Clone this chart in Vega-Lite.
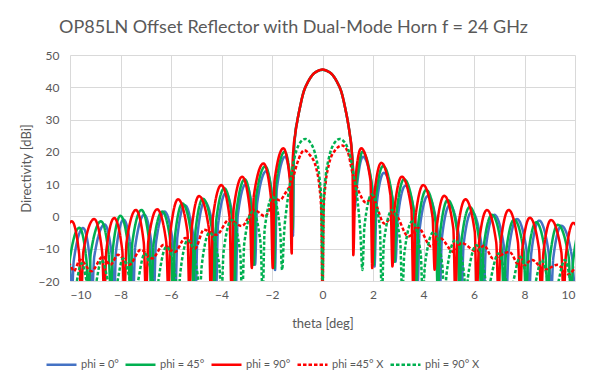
{
"$schema": "https://vega.github.io/schema/vega-lite/v6.json",
"width": 505, "height": 226,
"autosize": {"type": "none"},
"padding": {"left": 70, "top": 55, "right": 25, "bottom": 99},
"background": "white",
"title": {"text": "OP85LN Offset Reflector with Dual-Mode Horn f = 24 GHz", "font": "Lato", "fontSize": 18, "fontWeight": "normal", "color": "#595959", "anchor": "middle", "dx": -29, "offset": -2, "baseline": "alphabetic"},
"datasets": {
"blue": [[-10.6,-4.5],[-10.01,-14.5],[-9.93,-25],[-9.85,-13.6],[-9.48,-3.6],[-9.21,-13.6],[-9.13,-25],[-9.04,-12.5],[-8.63,-2.5],[-8.34,-12.5],[-8.25,-25],[-8.18,-11],[-7.88,-1],[-7.58,-11],[-7.5,-25],[-7.42,-9.5],[-7.06,0.5],[-6.76,-9.5],[-6.68,-25],[-6.6,-8.5],[-6.26,1.5],[-5.92,-8.5],[-5.83,-25],[-5.75,-6.5],[-5.46,3.5],[-5.11,-6.5],[-5.03,-25],[-4.95,-5.5],[-4.67,4.5],[-4.3,-5.5],[-4.22,-25],[-4.14,-2.8],[-3.83,7.2],[-3.52,-2.8],[-3.44,-25],[-3.36,0],[-3.04,10],[-2.75,0],[-2.67,-15],[-2.59,4],[-2.23,14],[-1.96,4],[-1.88,-16.6],[-1.81,8.5],[-1.48,18.5],[-1.24,8.5],[-1.17,-6],[-1.13,19.5],[-1.08,25.5],[-1.0,29.5],[-0.9,33.5],[-0.75,38.5],[-0.6,41.3],[-0.4,43.8],[-0.2,45],[0,45.4],[0.2,45],[0.4,43.8],[0.6,41.3],[0.75,38.5],[0.9,33.5],[1.0,29.5],[1.08,25.5],[1.15,21],[1.22,13],[1.27,2],[1.35,8.5],[1.6,18.5],[1.98,8.5],[2.06,-15.5],[2.14,3.5],[2.43,13.5],[2.81,3.5],[2.89,-14],[2.98,-0.5],[3.28,9.5],[3.67,-0.5],[3.76,-22],[3.85,-3.7],[4.17,6.3],[4.55,-3.7],[4.64,-25],[4.73,-6.5],[5.04,3.5],[5.41,-6.5],[5.5,-25],[5.59,-8.5],[5.91,1.5],[6.29,-8.5],[6.38,-25],[6.47,-9.5],[6.8,0.5],[7.19,-9.5],[7.28,-25],[7.37,-10.8],[7.7,-0.8],[8.09,-10.8],[8.18,-25],[8.27,-11.3],[8.58,-1.3],[8.96,-11.3],[9.05,-25],[9.14,-12.9],[9.46,-2.9],[9.89,-12.9],[9.98,-25],[10.07,-14],[10.38,-4]],
"green": [[-10.5,-4.5],[-10.17,-14.5],[-10.09,-25],[-10.01,-13.5],[-9.63,-3.5],[-9.35,-13.5],[-9.27,-25],[-9.18,-11.5],[-8.77,-1.5],[-8.47,-11.5],[-8.38,-25],[-8.3,-9.8],[-8.0,0.2],[-7.69,-9.8],[-7.61,-25],[-7.53,-8],[-7.17,2],[-6.86,-8],[-6.78,-25],[-6.69,-8.5],[-6.35,1.5],[-6.01,-8.5],[-5.92,-25],[-5.84,-6],[-5.55,4],[-5.19,-6],[-5.11,-25],[-5.03,-4.5],[-4.74,5.5],[-4.37,-4.5],[-4.29,-25],[-4.21,-1.3],[-3.89,8.7],[-3.57,-1.3],[-3.49,-25],[-3.41,1.5],[-3.08,11.5],[-2.8,1.5],[-2.72,-15],[-2.64,5.5],[-2.27,15.5],[-1.99,5.5],[-1.91,-16],[-1.84,10],[-1.5,20],[-1.25,10],[-1.18,-4],[-1.14,19],[-1.08,25.5],[-1.0,29.5],[-0.9,33.5],[-0.75,38.5],[-0.6,41.3],[-0.4,43.8],[-0.2,45],[0,45.4],[0.2,45],[0.4,43.8],[0.6,41.3],[0.75,38.5],[0.9,33.5],[1.0,29.5],[1.08,25.5],[1.15,21],[1.21,14],[1.26,5],[1.34,10],[1.58,20],[1.95,10],[2.03,-15],[2.11,5.6],[2.4,15.6],[2.77,5.6],[2.85,-14],[2.94,1.5],[3.23,11.5],[3.62,1.5],[3.71,-22],[3.8,-1.8],[4.11,8.2],[4.48,-1.8],[4.57,-25],[4.66,-4.9],[4.96,5.1],[5.34,-4.9],[5.42,-25],[5.51,-7.1],[5.83,2.9],[6.2,-7.1],[6.29,-25],[6.38,-9.5],[6.71,0.5],[7.09,-9.5],[7.18,-25],[7.27,-11],[7.59,-1],[7.97,-11],[8.06,-25],[8.15,-11.8],[8.46,-1.8],[8.83,-11.8],[8.92,-25],[9.01,-12.6],[9.32,-2.6],[9.75,-12.6],[9.84,-25],[9.93,-13.5],[10.23,-3.5],[10.62,-13.5],[10.71,-25]],
"red": [[-10.4,-25],[-10.31,-11.5],[-9.93,-1.5],[-9.64,-11.5],[-9.56,-25],[-9.47,-10.8],[-9.04,-0.8],[-8.73,-10.8],[-8.64,-25],[-8.56,-10.5],[-8.25,-0.5],[-7.93,-10.5],[-7.85,-25],[-7.76,-8],[-7.39,2],[-7.08,-8],[-6.99,-25],[-6.9,-7.8],[-6.55,2.2],[-6.19,-7.8],[-6.1,-25],[-6.02,-4.7],[-5.72,5.3],[-5.35,-4.7],[-5.27,-25],[-5.18,-3.7],[-4.89,6.3],[-4.5,-3.7],[-4.42,-25],[-4.34,-0.3],[-4.01,9.7],[-3.68,-0.3],[-3.6,-25],[-3.52,2.3],[-3.18,12.3],[-2.88,2.3],[-2.8,-16],[-2.72,6.4],[-2.34,16.4],[-2.05,6.4],[-1.97,-16],[-1.9,11.1],[-1.55,21.1],[-1.29,11.1],[-1.22,-11.5],[-1.19,15],[-1.15,21],[-1.08,25.5],[-1.0,29.5],[-0.9,33.5],[-0.75,38.5],[-0.6,41.3],[-0.4,43.8],[-0.2,45],[0,45.5],[0.2,45],[0.4,43.8],[0.6,41.3],[0.75,38.5],[0.9,33.5],[1.0,29.5],[1.08,25.5],[1.15,21],[1.19,15],[1.22,-12],[1.3,11.1],[1.53,21.1],[1.9,11.1],[1.97,-16],[2.05,6.6],[2.33,16.6],[2.69,6.6],[2.77,-15.5],[2.85,2.3],[3.14,12.3],[3.52,2.3],[3.6,-25],[3.68,-0.3],[3.99,9.7],[4.36,-0.3],[4.44,-16.5],[4.52,-3.6],[4.82,6.4],[5.18,-3.6],[5.26,-25],[5.35,-4.7],[5.66,5.3],[6.03,-4.7],[6.11,-25],[6.2,-8],[6.51,2],[6.88,-8],[6.97,-25],[7.06,-8],[7.37,2],[7.74,-8],[7.83,-25],[7.91,-10.4],[8.21,-0.4],[8.58,-10.4],[8.66,-25],[8.75,-11.1],[9.05,-1.1],[9.46,-11.1],[9.55,-25],[9.64,-12],[9.93,-2],[10.31,-12],[10.4,-25]],
"redx": [[-10.3,-16],[-10.0,-15],[-9.85,-17],[-9.6,-13.4],[-9.15,-17],[-8.7,-12.4],[-8.4,-15],[-8.1,-11.9],[-7.65,-15],[-7.2,-10.3],[-6.75,-13],[-6.29,-8.8],[-5.85,-11],[-5.43,-6.7],[-5.05,-10],[-4.7,-4.1],[-4.2,-5.7],[-3.7,-1],[-3.2,-3],[-2.7,2],[-2.27,0],[-1.9,5.5],[-1.7,5],[-1.45,7.5],[-1.2,11],[-1.0,16.5],[-0.72,20.5],[-0.5,19],[-0.25,15],[-0.12,9],[-0.05,2],[0,-25],[0.05,3],[0.12,10],[0.25,16],[0.5,20.5],[0.78,22],[1.0,20],[1.2,13],[1.45,7.5],[1.72,4.3],[1.97,5.8],[2.45,-2.2],[2.85,0.8],[3.4,-6.2],[3.8,-3.6],[4.3,-9.3],[4.65,-6.7],[5.2,-11],[5.5,-8.2],[6.1,-10.8],[6.4,-9],[6.75,-13],[7.4,-11],[7.85,-16],[8.3,-13.5],[8.8,-16.5],[9.3,-15],[9.75,-18],[10.0,-16],[10.2,-15]],
"greenx": [[-10.7,-25],[-10.35,-15.5],[-10.01,-24],[-9.93,-25],[-9.85,-24],[-9.54,-14.5],[-9.22,-24],[-9.14,-25],[-9.05,-23.5],[-8.75,-13.5],[-8.38,-23.5],[-8.29,-25],[-8.2,-23],[-7.9,-13],[-7.52,-23],[-7.43,-25],[-7.34,-21.5],[-7.04,-11.5],[-6.67,-21.5],[-6.58,-25],[-6.49,-19.4],[-6.18,-9.4],[-5.81,-19.4],[-5.72,-25],[-5.63,-17.3],[-5.33,-7.3],[-4.96,-17.3],[-4.87,-25],[-4.78,-15],[-4.47,-5],[-4.09,-15],[-4.0,-25],[-3.92,-11.1],[-3.6,-1.1],[-3.26,-11.1],[-3.18,-25],[-3.1,-8.4],[-2.76,1.6],[-2.45,-8.4],[-2.37,-25],[-2.29,-3.9],[-1.97,6.1],[-1.68,-3.9],[-1.6,-16.6],[-1.52,-5],[-1.4,4],[-1.25,12],[-1.1,18.5],[-0.95,22],[-0.68,24],[-0.45,22.5],[-0.25,18],[-0.12,12],[-0.05,5],[0,-25],[0.05,5],[0.12,12],[0.25,18],[0.45,22.5],[0.68,24],[0.95,22],[1.1,18.5],[1.25,12],[1.4,4],[1.5,-5],[1.58,-16.6],[1.66,-3.2],[1.95,6.8],[2.27,-3.2],[2.35,-25],[2.43,-8],[2.76,2],[3.08,-8],[3.16,-25],[3.24,-11.6],[3.55,-1.6],[3.89,-11.6],[3.97,-25],[4.06,-14.8],[4.4,-4.8],[4.74,-14.8],[4.83,-25],[4.92,-17.3],[5.26,-7.3],[5.6,-17.3],[5.68,-25],[5.76,-18.9],[6.1,-8.9],[6.44,-18.9],[6.52,-25],[6.61,-21.5],[6.97,-11.5],[7.31,-21.5],[7.4,-25],[7.49,-22.5],[7.83,-12.5],[8.17,-22.5],[8.25,-25],[8.34,-23.5],[8.68,-13.5],[9.05,-23.5],[9.14,-25],[9.23,-23.5],[9.6,-13.5],[9.92,-23.5],[10.0,-25]]
},
"layer": [
{"data": {"name": "blue"}, "transform": [{"calculate": "'phi = 0°'", "as": "series"}, {"calculate": "datum[0]", "as": "theta"}, {"calculate": "datum[1]", "as": "dBi"}], "mark": {"type": "line", "clip": true, "interpolate": "monotone"}},
{"data": {"name": "green"}, "transform": [{"calculate": "'phi = 45°'", "as": "series"}, {"calculate": "datum[0]", "as": "theta"}, {"calculate": "datum[1]", "as": "dBi"}], "mark": {"type": "line", "clip": true, "interpolate": "monotone"}},
{"data": {"name": "red"}, "transform": [{"calculate": "'phi = 90°'", "as": "series"}, {"calculate": "datum[0]", "as": "theta"}, {"calculate": "datum[1]", "as": "dBi"}], "mark": {"type": "line", "clip": true, "interpolate": "monotone"}},
{"data": {"name": "redx"}, "transform": [{"calculate": "'phi =45° X'", "as": "series"}, {"calculate": "datum[0]", "as": "theta"}, {"calculate": "datum[1]", "as": "dBi"}], "mark": {"type": "line", "clip": true, "interpolate": "monotone"}},
{"data": {"name": "greenx"}, "transform": [{"calculate": "'phi = 90° X'", "as": "series"}, {"calculate": "datum[0]", "as": "theta"}, {"calculate": "datum[1]", "as": "dBi"}], "mark": {"type": "line", "clip": true, "interpolate": "monotone"}}
],
"encoding": {
"x": {"field": "theta", "type": "quantitative", "scale": {"domain": [-10, 10], "nice": false, "zero": false}, "axis": {"title": "theta [deg]", "values": [-10,-8,-6,-4,-2,0,2,4,6,8,10], "labelPadding": 8, "titlePadding": 17}},
"y": {"field": "dBi", "type": "quantitative", "scale": {"domain": [-20, 50], "nice": false, "zero": false}, "axis": {"title": "Directivity [dBi]", "values": [-20,-10,0,10,20,30,40,50], "labelPadding": 11, "titlePadding": 5}},
"color": {"field": "series", "type": "nominal", "scale": {"domain": ["phi = 0°","phi = 45°","phi = 90°","phi =45° X","phi = 90° X"], "range": ["#4472C4","#00B050","#FF0000","#FF0000","#00B050"]}, "legend": {"title": null, "orient": "none", "legendX": -25, "legendY": 293, "direction": "horizontal"}},
"strokeDash": {"field": "series", "type": "nominal", "scale": {"domain": ["phi = 0°","phi = 45°","phi = 90°","phi =45° X","phi = 90° X"], "range": [[1,0],[1,0],[1,0],[3.5,2],[3.5,2]]}, "legend": {"title": null, "orient": "none", "legendX": -25, "legendY": 293, "direction": "horizontal"}},
"strokeWidth": {"field": "series", "type": "nominal", "scale": {"domain": ["phi = 0°","phi = 45°","phi = 90°","phi =45° X","phi = 90° X"], "range": [2.5,2.5,2.75,1.4,1.4]}, "legend": {"title": null, "orient": "none", "legendX": -25, "legendY": 293, "direction": "horizontal"}}
},
"config": {
"view": {"stroke": null},
"axis": {"labelFont": "Lato", "labelFontSize": 12, "labelColor": "#595959", "titleFont": "Lato", "titleFontSize": 13, "titleFontWeight": "normal", "titleColor": "#595959", "gridColor": "#d9d9d9", "gridWidth": 1, "grid": true, "domain": false, "ticks": false, "tickSize": 0},
"legend": {"symbolType": "stroke", "symbolSize": 900, "labelFont": "Lato", "labelFontSize": 11, "labelColor": "#595959", "labelOffset": 3, "columnPadding": 1}
}
}
